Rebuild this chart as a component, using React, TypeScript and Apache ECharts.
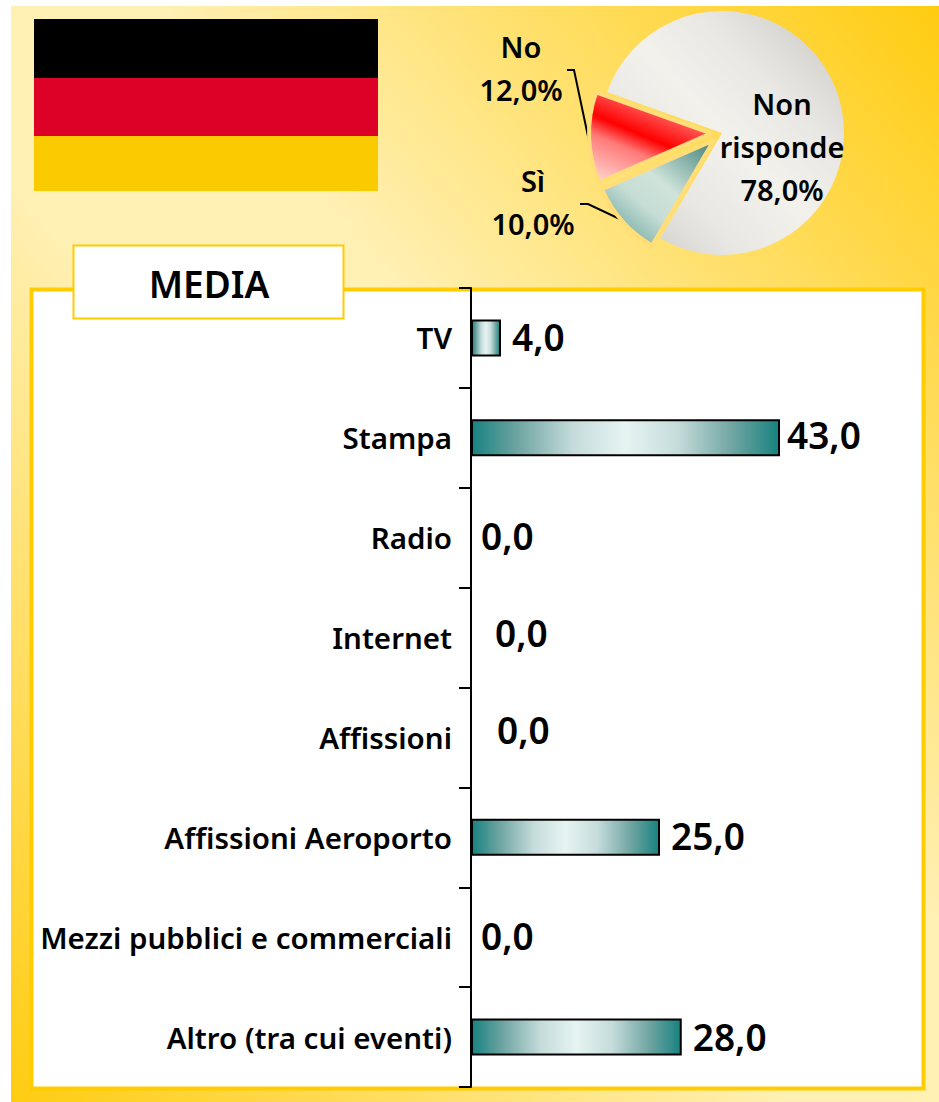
import React, { useEffect, useRef } from "react";
import * as echarts from "echarts";

const categories = ["TV", "Stampa", "Radio", "Internet", "Affissioni", "Affissioni Aeroporto", "Mezzi pubblici e commerciali", "Altro (tra cui eventi)"];
// Bar lengths as drawn. The Stampa bar is drawn shorter than its printed label says.
const barLengths = [4, 41.2, 0, 0, 0, 25.2, 0, 28.1];
const valueLabels = ["4,0", "43,0", "0,0", "0,0", "0,0", "25,0", "0,0", "28,0"];
const pieNames = ["Non risponde", "Sì", "No"];
const pieValues = [78, 10, 12];
const pieLabels = ["Non\nrisponde\n78,0%", "Sì\n10,0%", "No\n12,0%"];

const labelDistance = [11, 7, 10, 24, 26, 11, 10, 11];
const labelRise = [-1, -3, -2, -5, -8, -2, -2, -1];
const pieLabelAnchors = [[782, 146], [533, 202], [521, 68]];
const pieLeaders = [null, [[580, 204], [588, 204], [624, 221]], [[567, 70], [574, 70], [589, 141]]];

const FONT = "'Noto Sans', sans-serif";
const grad = (x: number, y: number, x2: number, y2: number, stops: [number, string][]) =>
  new echarts.graphic.LinearGradient(x, y, x2, y2, stops.map(([offset, color]) => ({ offset, color })));

export default function App() {
  const ref = useRef<HTMLDivElement>(null);
  useEffect(() => {
    const chart = echarts.init(ref.current!, undefined, { renderer: "svg" });
    const barFill = grad(0, 0, 1, 0, [[0, "#178280"], [0.15, "#6FA5A2"], [0.33, "#C5DCDB"], [0.5, "#E6F4F2"], [0.67, "#C5DCDB"], [0.85, "#6FA5A2"], [1, "#178280"]]);
    const pieFills = [
      grad(1, 0, 0, 1, [[0, "#C6C5C0"], [0.3, "#E8E7E3"], [0.5, "#F2F1EC"], [0.72, "#E8E7E3"], [1, "#C6C5C0"]]),
      grad(1, 0, 0.1, 1, [[0, "#3E8078"], [0.45, "#CFE3DA"], [0.65, "#C6DDD5"], [1, "#5E9E96"]]),
      grad(0.75, 0, 0.12, 1.1, [[0, "#FFB0AC"], [0.45, "#FF0000"], [0.6, "#FF7A78"], [1, "#FFE4E0"]]),
    ];
    const outsideLabels = [1, 2].flatMap((i) => [
      {
        type: "text",
        x: pieLabelAnchors[i][0],
        y: pieLabelAnchors[i][1],
        style: { text: pieLabels[i], fill: "#000000", font: `600 29px ${FONT}`, lineHeight: 43, textAlign: "center", textVerticalAlign: "middle" },
      },
      { type: "polyline", shape: { points: pieLeaders[i] }, style: { fill: "none", stroke: "#000000", lineWidth: 2 } },
    ]);
    chart.setOption({
      animation: false,
      graphic: {
        elements: [
          { type: "rect", shape: { x: 11, y: 6, width: 928, height: 1096 }, style: { fill: grad(0, 1, 1, 0, [[0, "#FFCC11"], [0.42, "#FFF0B4"], [0.58, "#FFF0B4"], [1, "#FFCC11"]]) } },
          { type: "rect", shape: { x: 34, y: 19, width: 344, height: 59 }, style: { fill: "#000000" } },
          { type: "rect", shape: { x: 34, y: 78, width: 344, height: 58 }, style: { fill: "#DD0027" } },
          { type: "rect", shape: { x: 34, y: 136, width: 344, height: 55 }, style: { fill: "#FBCB02" } },
          { type: "rect", shape: { x: 31.5, y: 289.5, width: 892, height: 799 }, style: { fill: "#FFFFFF", stroke: "#FFCC00", lineWidth: 4 } },
          { type: "rect", shape: { x: 73.5, y: 245.5, width: 270, height: 73 }, style: { fill: "#FFFFFF", stroke: "#FFCC00", lineWidth: 2 } },
          { type: "text", x: 209, y: 283, style: { text: "MEDIA", fill: "#000000", font: `600 37px ${FONT}`, textAlign: "center", textVerticalAlign: "middle" } },
          ...outsideLabels,
        ],
      },
      grid: { left: 471, top: 288, width: 450, height: 799, containLabel: false },
      xAxis: { type: "value", min: 0, max: 60, show: false },
      yAxis: {
        type: "category",
        inverse: true,
        data: categories,
        axisLine: { show: true, lineStyle: { color: "#000000", width: 2 } },
        axisTick: { show: true, length: 12, lineStyle: { color: "#000000", width: 2 } },
        axisLabel: { margin: 19, color: "#000000", fontFamily: FONT, fontSize: 29.5, fontWeight: 600, padding: [0, 0, 3, 0] },
      },
      series: [
        {
          type: "bar",
          barWidth: 37,
          data: barLengths.map((value, i) => ({
            value,
            itemStyle: { color: barFill, borderColor: "#000000", borderWidth: value === 0 ? 0 : 2 },
            label: {
              show: true,
              position: "right",
              distance: labelDistance[i],
              offset: [0, labelRise[i]],
              formatter: valueLabels[i],
              color: "#000000",
              fontFamily: FONT,
              fontSize: 37,
              fontWeight: 600,
            },
          })),
        },
        {
          type: "pie",
          center: [722, 133],
          radius: [0, 122],
          startAngle: 160.4,
          clockwise: true,
          selectedMode: "multiple",
          selectedOffset: 11,
          data: pieValues.map((value, i) => ({
            value,
            name: pieNames[i],
            selected: i > 0,
            itemStyle: { color: pieFills[i], borderColor: "#FFDD78", borderWidth: i === 0 ? 0 : 4 },
            label: { show: i === 0 },
            labelLine: { show: false },
          })),
          label: {
            position: "outside",
            overflow: "none",
            formatter: (p: any) => pieLabels[p.dataIndex],
            color: "#000000",
            fontFamily: FONT,
            fontSize: 29,
            fontWeight: 600,
            lineHeight: 43,
            align: "center",
          },
          labelLayout: (p: any) => {
            const [x, y] = pieLabelAnchors[p.dataIndex];
            return { x, y, align: "center", verticalAlign: "middle" };
          },
        },
      ],
    });
    return () => chart.dispose();
  }, []);
  return <div ref={ref} style={{ position: "absolute", left: 0, top: 0, width: 939, height: 1102 }} />;
}
